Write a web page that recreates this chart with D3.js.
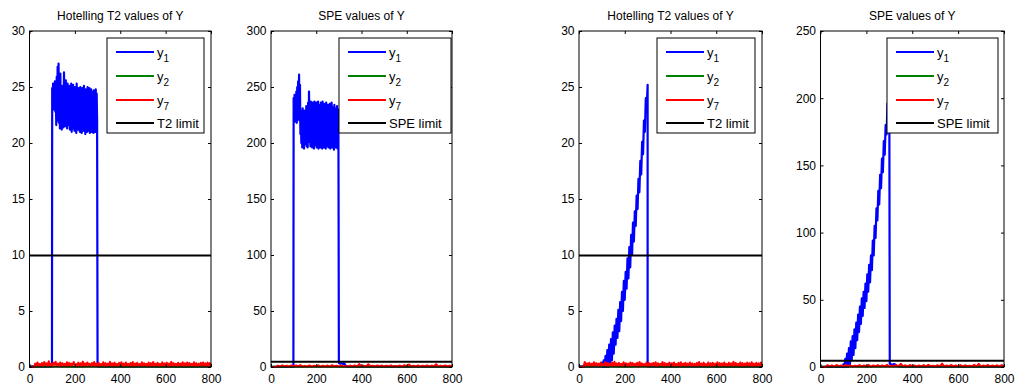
<!DOCTYPE html>
<html lang="en">
<head>
<meta charset="UTF-8">
<title>T2 and SPE values of Y</title>
<script src="https://d3js.org/d3.v7.min.js"></script>
<style>
    body { margin: 0; background: #fff; }
    svg text { font-family: "Liberation Sans", Arial, sans-serif; fill: #000; }
    .axis text { font-size: 12px; }
    .axis path { display: none; }
    .axis line { stroke: #000; }
</style>
</head>
<body>
<svg width="1015" height="388"></svg>
<script>
    // tick labels
    const xTicks = [0, 200, 400, 600, 800];
    const t2Ticks = [0, 5, 10, 15, 20, 25, 30];
    const speTicksA = [0, 50, 100, 150, 200, 250, 300];
    const speTicksB = [0, 50, 100, 150, 200, 250];
    const titles = ["Hotelling T2 values of Y", "SPE values of Y", "Hotelling T2 values of Y", "SPE values of Y"];
    const legendNames = ["y1", "y2", "y7"];
    const limitNames = ["T2 limit", "SPE limit", "T2 limit", "SPE limit"];

    // control limits
    const t2Limit = 9.95;
    const speLimit = 4.7;

    // y1 during the step fault, samples 100..298 every 2
    const t2StepBlue = [24.9, 23.2, 25.3, 23.0, 24.6, 23.4, 25.5, 22.8, 24.2, 21.6,
        25.9, 22.4, 26.8, 22.0, 27.1, 21.8, 25.4, 21.3, 26.2, 22.5,
        24.8, 21.2, 25.1, 21.9, 24.5, 21.4, 26.3, 22.1, 25.0, 21.5,
        25.6, 21.8, 24.6, 21.3, 25.3, 22.0, 24.9, 21.6, 25.1, 21.2,
        24.7, 21.7, 25.3, 21.0, 24.8, 21.9, 25.2, 21.3, 24.6, 21.1,
        25.0, 21.6, 24.5, 20.9, 25.3, 21.5, 24.7, 21.2, 24.9, 21.8,
        24.4, 21.0, 25.0, 21.4, 24.6, 20.9, 24.9, 21.6, 24.3, 21.1,
        25.1, 21.3, 24.7, 20.8, 24.8, 21.5, 24.5, 21.0, 25.0, 21.4,
        24.6, 21.1, 24.9, 20.9, 24.4, 21.3, 24.8, 21.0, 24.6, 21.5,
        24.2, 20.9, 24.7, 21.2, 24.5, 21.0, 24.8, 21.3, 24.4, 22.0];
    const speStepBlue = [240, 222, 243, 219, 238, 224, 246, 218, 250, 221,
        255, 226, 261, 220, 252, 208, 229, 200, 226, 196,
        231, 203, 224, 195, 229, 199, 227, 202, 233, 197,
        225, 196, 236, 201, 246, 204, 232, 197, 237, 199,
        229, 196, 236, 203, 231, 195, 237, 198, 233, 200,
        236, 196, 230, 202, 237, 195, 234, 199, 228, 196,
        236, 201, 232, 195, 237, 198, 230, 196, 235, 200,
        229, 195, 236, 197, 231, 199, 234, 196, 228, 201,
        235, 195, 230, 198, 236, 196, 232, 200, 229, 194,
        234, 197, 231, 196, 228, 199, 233, 195, 230, 215];

    // y1 during the drift fault, samples 100..300 every 4
    const t2DriftBlue = [0.4, 0.0, 0.6, 0.0, 1.0, 0.0, 1.5, 0.0, 2.0, 0.2,
        2.5, 0.6, 3.1, 1.2, 3.7, 2.0, 4.3, 2.6, 5.1, 3.2,
        5.8, 4.1, 6.7, 5.0, 7.7, 6.0, 8.5, 7.0, 9.7, 7.9,
        10.7, 8.9, 11.8, 10.0, 12.9, 11.2, 13.9, 12.6, 15.3, 14.1,
        16.8, 15.6, 18.4, 17.2, 20.1, 19.0, 22.0, 21.0, 24.0, 23.1, 25.2];
    const speDriftBlue = [2, 0, 6, 0, 10, 0, 14, 1, 19, 5,
        23, 9, 28, 14, 33, 20, 39, 26, 45, 32,
        51, 38, 56, 44, 62, 49, 69, 56, 76, 63,
        83, 72, 94, 83, 105, 96, 118, 109, 131, 121,
        143, 133, 155, 145, 168, 158, 180, 173, 196, 188, 204];

    // small y1 residue just after the SPE faults, samples 300..330 every 6
    const speAfterA = [3.5, 3.0, 3.3, 2.8, 3.2, 1.0];
    const speAfterB = [2.5, 2.0, 1.5, 2.2, 1.8, 0.8];

    // y2, samples 0..800 every 100
    const t2Green = [0.02, 0.04, 0.03, 0.05, 0.03, 0.04, 0.02, 0.03, 0.04];
    const speGreen = [0.2, 0.3, 0.25, 0.3, 0.2, 0.3, 0.25, 0.2, 0.3];

    // y7 in the T2 charts, samples 25..800 every 5
    const t2RedA = [0.30, 0.12, 0.41, 0.08, 0.27, 0.15, 0.36, 0.06, 0.44, 0.18, 0.33, 0.09,
        0.52, 0.14, 0.29, 0.07, 0.38, 0.20, 0.47, 0.10, 0.31, 0.13, 0.40, 0.05,
        0.35, 0.16, 0.28, 0.09, 0.43, 0.12, 0.37, 0.07, 0.30, 0.18, 0.45, 0.11,
        0.26, 0.08, 0.39, 0.15, 0.34, 0.06, 0.48, 0.13, 0.32, 0.10, 0.41, 0.17,
        0.29, 0.07, 0.36, 0.14, 0.44, 0.09, 0.31, 0.12, 0.38, 0.05, 0.27, 0.16,
        0.42, 0.11, 0.35, 0.08, 0.30, 0.15, 0.46, 0.10, 0.33, 0.07, 0.39, 0.13,
        0.28, 0.09, 0.37, 0.16, 0.43, 0.06, 0.32, 0.12, 0.40, 0.14, 0.29, 0.08,
        0.36, 0.11, 0.45, 0.07, 0.31, 0.15, 0.38, 0.10, 0.27, 0.13, 0.42, 0.09,
        0.34, 0.16, 0.29, 0.06, 0.40, 0.12, 0.35, 0.08, 0.44, 0.11, 0.30, 0.14,
        0.37, 0.07, 0.28, 0.15, 0.41, 0.10, 0.33, 0.13, 0.39, 0.05, 0.32, 0.12,
        0.46, 0.09, 0.35, 0.16, 0.29, 0.08, 0.38, 0.11, 0.31, 0.14, 0.43, 0.07,
        0.33, 0.12, 0.40, 0.06, 0.36, 0.15, 0.28, 0.10, 0.42, 0.09, 0.34, 0.13,
        0.30, 0.08, 0.37, 0.14, 0.41, 0.11, 0.32, 0.07, 0.39, 0.12, 0.35, 0.10];
    const t2RedB = [0.45, 0.10, 0.33, 0.16, 0.38, 0.07, 0.29, 0.13, 0.42, 0.09, 0.35, 0.15,
        0.31, 0.06, 0.40, 0.12, 0.27, 0.17, 0.44, 0.08, 0.36, 0.11, 0.30, 0.14,
        0.39, 0.09, 0.47, 0.13, 0.32, 0.06, 0.37, 0.15, 0.28, 0.10, 0.43, 0.08,
        0.34, 0.12, 0.30, 0.07, 0.41, 0.16, 0.35, 0.09, 0.29, 0.13, 0.38, 0.05,
        0.44, 0.11, 0.32, 0.14, 0.27, 0.08, 0.40, 0.12, 0.36, 0.06, 0.31, 0.15,
        0.37, 0.10, 0.42, 0.07, 0.33, 0.13, 0.29, 0.16, 0.45, 0.09, 0.35, 0.11,
        0.30, 0.14, 0.39, 0.08, 0.34, 0.12, 0.41, 0.06, 0.28, 0.15, 0.37, 0.10,
        0.43, 0.07, 0.32, 0.13, 0.38, 0.09, 0.30, 0.16, 0.40, 0.11, 0.33, 0.08,
        0.29, 0.12, 0.36, 0.10, 0.44, 0.14, 0.31, 0.07, 0.39, 0.13, 0.27, 0.09,
        0.41, 0.15, 0.34, 0.06, 0.37, 0.11, 0.30, 0.14, 0.42, 0.08, 0.35, 0.12,
        0.32, 0.09, 0.40, 0.13, 0.28, 0.07, 0.38, 0.16, 0.33, 0.10, 0.46, 0.11,
        0.36, 0.14, 0.29, 0.08, 0.41, 0.12, 0.35, 0.06, 0.31, 0.15, 0.39, 0.09,
        0.34, 0.11, 0.42, 0.07, 0.30, 0.13, 0.37, 0.10, 0.33, 0.14, 0.40, 0.08];

    // y7 in the SPE charts, samples 30..800 every 10
    const speRedA = [1.2, 0.4, 1.5, 0.6, 1.1, 0.3, 1.4, 0.5, 1.3, 0.7,
        1.6, 0.4, 1.0, 0.5, 1.4, 0.3, 1.2, 0.6, 1.5, 0.4,
        1.1, 0.5, 1.3, 0.3, 1.6, 0.6, 1.2, 0.4, 1.4, 0.5,
        1.0, 0.3, 1.3, 0.6, 1.5, 0.4, 2.6, 0.5, 1.2, 0.3,
        2.4, 0.6, 1.1, 0.4, 1.4, 0.5, 1.3, 0.3, 1.2, 0.6,
        1.5, 0.4, 1.0, 0.5, 1.3, 0.3, 1.6, 0.6, 2.3, 0.4,
        1.2, 0.5, 1.4, 0.3, 1.1, 0.6, 1.5, 0.4, 1.3, 0.5,
        2.5, 0.3, 1.2, 0.6, 1.4, 0.4, 1.1, 0.5];
    const speRedB = [1.4, 0.5, 1.1, 0.3, 1.5, 0.6, 1.2, 0.4, 1.6, 0.5,
        1.3, 0.3, 1.0, 0.6, 1.4, 0.4, 1.2, 0.5, 1.5, 0.3,
        1.1, 0.6, 1.3, 0.4, 1.2, 0.5, 1.6, 0.3, 1.0, 0.6,
        1.4, 0.4, 2.4, 0.5, 1.3, 0.3, 1.5, 0.6, 1.1, 0.4,
        1.2, 0.5, 1.4, 0.3, 1.6, 0.6, 1.0, 0.4, 1.3, 0.5,
        2.5, 0.3, 1.2, 0.6, 1.5, 0.4, 1.1, 0.5, 1.4, 0.3,
        1.3, 0.6, 1.0, 0.4, 1.6, 0.5, 2.3, 0.3, 1.2, 0.6,
        1.5, 0.4, 1.1, 0.5, 1.3, 0.3, 1.4, 0.5];

    // ---------------------------------------
    const svg = d3.select("svg");
    const plotTop = 31, plotBottom = 367;

    // sample index -> [sample, value]
    function seg(start, step, vals) {
        return vals.map((v, i) => [start + i * step, v]);
    }

    const panels = [
        {left: 29.5, right: 211, ymax: 30, yTicks: t2Ticks, box: [107, 204], limit: t2Limit,
            blue: [[0, 0.05], [99, 0.05]].concat(seg(100, 2, t2StepBlue), [[300, 0.05], [800, 0.05]]),
            green: seg(0, 100, t2Green), red: [[0, 0], [20, 0]].concat(seg(25, 5, t2RedA))},
        {left: 271, right: 452, ymax: 300, yTicks: speTicksA, box: [339, 451], limit: speLimit,
            blue: [[0, 0.1], [99, 0.1]].concat(seg(100, 2, speStepBlue), seg(300, 6, speAfterA), [[340, 0.3], [800, 0.3]]),
            green: seg(0, 100, speGreen), red: [[0, 0], [22, 0]].concat(seg(30, 10, speRedA))},
        {left: 579, right: 762, ymax: 30, yTicks: t2Ticks, box: [657, 755], limit: t2Limit,
            blue: [[0, 0.05], [99, 0.05]].concat(seg(100, 4, t2DriftBlue), [[300, 0.05], [800, 0.05]]),
            green: seg(0, 100, t2Green), red: [[0, 0], [20, 0]].concat(seg(25, 5, t2RedB))},
        {left: 820.5, right: 1004, ymax: 250, yTicks: speTicksB, box: [887, 998], limit: speLimit,
            blue: [[0, 0.1], [99, 0.1]].concat(seg(100, 4, speDriftBlue), seg(302, 6, speAfterB), [[350, 0.3], [800, 0.3]]),
            green: seg(0, 100, speGreen), red: [[0, 0], [22, 0]].concat(seg(30, 10, speRedB))}
    ];

    const colors = ["#0000ff", "#008000", "#ff0000", "#000000"];
    const widths = [2.2, 2, 2, 2];

    panels.forEach(function (p, k) {
        const x = d3.scaleLinear().domain([0, 800]).range([p.left, p.right]);
        const y = d3.scaleLinear().domain([0, p.ymax]).range([plotBottom, plotTop]);
        const g = svg.append("g");

        // white plot area
        g.append("rect").attr("x", p.left).attr("y", plotTop)
            .attr("width", p.right - p.left).attr("height", plotBottom - plotTop).attr("fill", "#fff");

        const line = d3.line().x(d => x(d[0])).y(d => y(d[1]));
        const series = [p.blue, p.green, p.red, [[0, p.limit], [800, p.limit]]];
        series.forEach(function (s, i) {
            g.append("path").datum(s).attr("d", line)
                .attr("fill", "none").attr("stroke", colors[i])
                .attr("stroke-width", widths[i]).attr("stroke-linejoin", "round");
        });

        // axes, ticks pointing inward on all four sides
        g.append("g").attr("class", "axis").attr("transform", `translate(0,${plotBottom})`)
            .call(d3.axisBottom(x).tickValues(xTicks).tickSize(-3).tickPadding(7));
        g.append("g").attr("class", "axis").attr("transform", `translate(0,${plotTop})`)
            .call(d3.axisTop(x).tickValues(xTicks).tickSize(-3).tickFormat(""));
        g.append("g").attr("class", "axis").attr("transform", `translate(${p.left},0)`)
            .call(d3.axisLeft(y).tickValues(p.yTicks).tickSize(-3).tickPadding(4.5));
        g.append("g").attr("class", "axis").attr("transform", `translate(${p.right},0)`)
            .call(d3.axisRight(y).tickValues(p.yTicks).tickSize(-3).tickFormat(""));

        g.append("rect").attr("x", p.left).attr("y", plotTop)
            .attr("width", p.right - p.left).attr("height", plotBottom - plotTop)
            .attr("fill", "none").attr("stroke", "#000").attr("stroke-width", 1);

        g.append("text").attr("x", (p.left + p.right) / 2).attr("y", 19.5)
            .attr("text-anchor", "middle").style("font-size", "12px").text(titles[k]);

        // legend
        const bx = p.box[0], bw = p.box[1] - p.box[0];
        g.append("rect").attr("x", bx).attr("y", 38).attr("width", bw).attr("height", 95)
            .attr("fill", "#fff").attr("stroke", "#000").attr("stroke-width", 1);
        const rows = [52, 76, 100, 123];
        rows.forEach(function (ry, i) {
            g.append("line").attr("x1", bx + 9).attr("x2", bx + 47).attr("y1", ry).attr("y2", ry)
                .attr("stroke", colors[i]).attr("stroke-width", 2);
            const t = g.append("text").attr("x", bx + 50).attr("y", ry + 4.5).style("font-size", "13px");
            if (i < 3) {
                t.append("tspan").text(legendNames[i][0]);
                t.append("tspan").attr("dy", 5).style("font-size", "10px").text(legendNames[i].slice(1));
            } else {
                t.text(limitNames[k]);
            }
        });
    });
</script>
</body>
</html>
